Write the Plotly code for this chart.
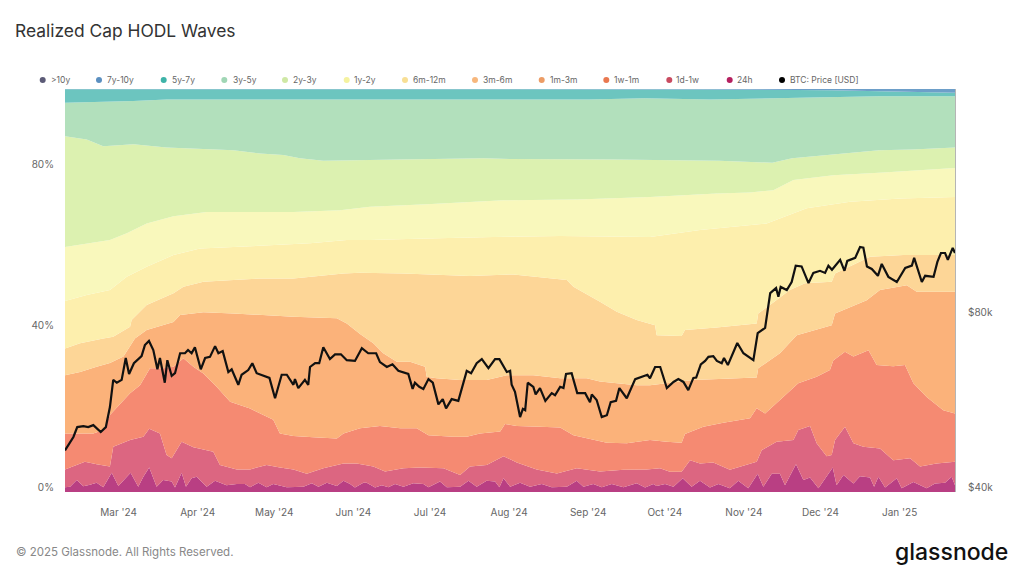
from datetime import datetime, timedelta
import plotly.graph_objects as go

START = datetime(2024, 2, 9)
END_DAY = 348.7

price_days = [0,3.3,4.8,7.2,9.1,11.1,14,16,17.6,18.9,20.3,22.2,23.8,25.1,27,30,31.3,32.9,34.6,36.2,37.2,39.1,40.1,41.8,43.1,45.1,47,48.2,49.6,50.9,53.2,54.9,56.8,58.8,60.1,61.8,64,65.3,67.9,69.2,71.8,73.4,75.1,80.1,82.3,84.9,86.9,89.5,90.1,91.4,94,95.3,96,98,99.6,101.2,103.8,105.8,108.1,110.4,113.6,116.3,118.8,121.9,123.4,126.1,128.3,130.6,134.5,136.2,137.1,138.8,140.4,142.4,144.1,146.3,148,149.3,151.5,154.1,157.4,159.1,161.3,163.3,165.9,168.5,170.2,173.1,174.4,175,176.3,178.3,179.4,180.3,181.3,183.5,184.4,186.1,188.2,190.7,192,194,195.3,196.3,198.5,200.7,203.8,205.7,206.4,208.3,210.3,212.3,213.8,215.9,217.2,220.1,223.4,226.6,228.2,229.2,231.2,233.2,235.8,238.4,240.3,242.3,244.2,246.2,247.3,249.1,250.8,252.1,254,255.4,257.3,258.2,259.7,263.4,265.8,269.7,271.4,274.3,276.3,278.6,279.5,280.4,282.8,284.7,286.3,288.6,291.3,293.2,295.8,297.8,299.1,300.5,303.7,305.4,306.5,309.6,311.5,312.8,314.2,316.1,318.5,320,322.6,325.9,329.2,331.8,332.7,335.7,337,340.3,341.8,343.2,344.8,345.9,347.8,348.7]
price_k = [47.2,49.8,51.8,52,51.8,52.2,50.8,51.8,56.1,62.5,61.8,62.5,68.2,64,66.8,68.7,71.8,73,70.4,65.2,68.2,61.8,67.6,63.5,64.2,69.5,69.5,70.4,69.5,71.2,65.2,68.2,68.5,71.5,69.5,70.1,64.5,65.2,61.3,63.8,65,66.8,64.2,63,58.1,63.8,63.8,61.3,62.7,60.5,62.5,61.3,65.8,66.8,66.8,71.2,67.9,69.2,69.2,67.6,67.4,70.9,69.5,69.5,67.1,65.8,66.5,64.8,64,60.3,61.8,60.8,60.3,62.7,61.8,56.7,57.9,55.8,57.9,57.5,64.8,64.2,66.8,67.9,65.5,67.9,67.9,64.5,64.8,61.3,59.6,53.9,55.7,55.4,61.8,60.8,59,60.5,57.5,59.3,58.8,60.8,60.5,64,64.2,59.3,59.3,57.2,59,57.7,53.9,54.3,57.2,57.5,60.5,58.1,62.7,63.5,63.8,62.9,65.8,65.8,60.5,62,62.7,62,60,63,63.1,66.5,67.4,68.5,68.7,67.4,66.8,68.2,66.3,72.4,69.5,67.6,75.3,76.9,88.3,90.1,87,90.5,89.4,92.3,98.5,98.2,91.9,95.7,96.5,95.7,98.5,96.9,100.8,96.5,100.4,101.6,106.1,105.8,98.2,97.2,94.6,99.2,94.2,92.3,97.6,98.5,101.6,92.3,94.6,94.2,100,103.6,103.6,100.8,105.7,103.6]

h24_days = [0,2,4.6,7.2,9.8,12.4,15,18.3,20.9,24.2,25.7,28.7,30.7,33,35.9,38.5,41.8,43.1,45.7,47.4,49.6,51.6,55.5,58.8,63.3,67.3,70.5,72.5,75.8,79,81.6,86.9,88.8,93.4,96.7,99.3,102.6,106.5,109.1,111.7,113.6,116.9,118.2,121.5,124.1,126.7,129.3,132.6,136.5,140.4,142.4,146.9,149.6,154.8,158.1,161.3,165.2,168.5,170.2,171.8,174.4,178.3,182.2,186.8,190.7,196.6,200.5,203.1,207,210.3,214.2,218.8,224,227.3,230.5,231.8,235.1,238.4,242,245.5,248.8,252.7,256,260.5,263.8,267.7,271.4,273.6,276.9,280.1,282.1,286.4,289.3,291.9,295.2,300.8,302.3,305,308.9,311.5,315.4,317,318.7,321.3,325.9,327.8,332.4,337.6,340.9,344.8,347.4,348.7]
h24_top = [1.2,1.3,3.0,1.4,1.8,2.3,1.2,4.8,1.5,3.8,4.8,1.3,3.8,6.1,1.3,3.0,2.6,1.1,4.8,1.3,3.4,3.8,1.3,2.8,1.7,2,2,1.2,2.3,1.2,2,1.2,1.2,1.3,2.2,1.3,2.3,1.5,2.8,2,1.1,2.3,2.3,1.1,1.7,1.2,2,1.3,2.2,2,1.2,2.6,1.2,1.3,2.8,1.3,2.8,2.6,1.2,3.4,1.3,2.3,1.3,2,1.2,1.3,2.8,1.3,2,1.2,2,1.2,2.2,1.1,2,1.5,2,1.3,3.4,1.3,2.8,1.1,2,0.9,2.8,0.9,4.5,1.3,4.5,4.5,1.7,6.9,3,3.6,0.9,6.1,1.7,4.2,2.1,3.9,3.6,1.3,3.8,1.1,3.4,0.9,2.5,0.9,2.1,2.3,3.8,1.7]

d1w_days = [0,4.6,7.8,12.4,17.6,18.9,25.5,30.7,33,37.2,39.8,41.8,45.7,50.3,58.1,60.7,67.3,72.5,79,84.2,89.5,94.7,101.2,109.1,114.3,120.8,125.4,132.6,139.1,148.3,154.8,158.7,165.2,171.8,177,184.8,192.7,200.5,209.6,218.8,227.9,233.1,237,241.6,244.9,248.8,254,260.5,264.5,271,273,278.8,285.4,287.3,291.9,294.5,298.4,300.4,301.7,305.6,308.9,312.8,319.3,324.5,331.1,335,341.5,348.7]
d1w_top = [5.6,6.7,7.5,6.9,6.3,11.2,12.9,13.7,15.7,14.5,9.2,8.4,12.5,11.1,10,6.7,5.6,5.6,6.7,6.1,5.6,4.5,5.9,7.1,7.1,6.3,5.1,5.9,6.1,5.9,4.2,6.3,6.7,8.9,7.3,5.6,4.6,5.9,5.1,5.5,5.6,5.9,5.0,5.0,7.9,7.1,7.3,5.5,6.3,7.5,10.4,12.5,12.9,15.4,16.4,12.1,8.9,9.2,12.9,16.2,12.1,11.2,10.8,7.9,8.4,6.3,7.1,7.5]

w1m_days = [0,11.1,15,17.6,25.5,29.4,33.3,38.5,42.5,46.4,50.3,54.2,59.4,64.7,72.5,81.6,84.2,89.5,97.3,106.5,109.1,115.6,123.4,131.3,137.8,142.4,152.2,157.4,162.6,170.5,172.4,177,186.1,194,199.2,204.4,212.3,220.1,229.2,235.7,241.6,242.9,250.1,257.9,268.4,271,274.3,281.4,287.3,294.5,299.7,301,305.6,308.9,314.8,318,324.5,329.1,332.4,337.6,344.1,348.7]
w1m_top = [14.5,14.5,15.4,19.1,24.5,26.5,30.7,30.7,31.1,33.2,31.1,29.4,26.1,22.4,20.7,17.9,14.5,13.9,13.6,13.3,14.5,15.8,16.4,15.8,15.8,14.1,13.7,13.7,14.5,15,16.9,16.4,16.2,16,14.1,13.3,12.2,12.1,12.9,12.5,12.2,14.4,16.2,17.2,18.3,20.8,19.5,23.6,27,28.6,30.3,32.6,34.8,33.6,35.2,31.5,31.2,31.5,27,23.6,20.3,19.5]

m1_3_days = [0,5.9,12.4,17.6,22.9,26.1,27.4,32,42.5,45.1,54.2,66,76.4,89.5,106.5,110.4,115.6,120.8,124.7,130,135.2,141.1,141.7,145.6,154.8,165.2,173.1,183.5,194,204.4,209.6,216.2,224,229.2,246.2,271,271.6,280.1,286.7,300.4,301.7,314.1,319.3,329.8,333.7,348.7]
m1_3_top = [29,29.8,31.1,32,33.6,37,38.1,40.2,42.2,43.9,44.6,44.3,43.9,43.5,43.1,41.8,39.2,36.9,34.4,32.3,32.3,31.1,28.6,28.2,27.8,27.8,29,29,28.2,28.2,27.4,27,26.5,26.5,27.8,28.4,30.7,34.4,38.9,41.4,44.3,47.6,50.1,51.3,49.7,49.7]

m3_6_days = [0,5.9,15,18.9,25.5,26.1,32,42.5,46.4,54.2,66,76.4,89.5,109.1,115.6,132.6,158.7,175.7,196.6,199.2,209.6,216.2,224,231.2,231.8,241.6,242.9,255.3,271,271.6,277.5,284,289.9,300.4,301.7,310.2,315.4,328.5,348.7]
m3_6_top = [35.6,36.9,38.1,38.5,41,42.7,46.4,49.3,50.9,52.2,52.6,53,53,54.2,54.4,54.2,53.6,54,52.6,50.9,47.2,44.7,42.7,41.4,38.9,38.7,40.2,40.8,41.8,44.3,47,50.1,51.8,52.2,54.2,56.7,58.4,58.8,58.8]

m6_12_days = [0,8.5,17.6,24.2,32,42.5,52.9,66,79,96,110.4,119.5,141.7,167.8,194,229.2,248.8,274.9,290.6,307.6,327.2,348.7]
m6_12_top = [47.4,48.9,50.1,53.4,55.9,58.8,60.4,60.8,61.3,61.7,62.5,62.5,62.9,63.3,63.5,63.3,65,66.6,70.4,72,72.8,73.2]

y1_2_days = [0,9.8,17.6,24.2,32,42.5,55.5,71.2,89.5,107.8,119.5,141.7,171.8,200.5,229.2,255.3,268.4,277.5,285.4,301,310.2,320.6,348.7]
y1_2_top = [60.8,61.7,62.5,64.2,66.6,68.4,69.5,69.5,69.5,69.9,70.8,71.4,72.4,72.6,73.2,74.1,74.3,74.9,77.4,78.6,79,79.3,80.4]

y2_3_days = [0,8.5,15,26.8,39.8,52.9,66,76.4,85.5,92,101.2,131.2,163.9,175.2,214.4,256.2,277.1,284.9,305.8,318.9,332,348.7]
y2_3_top = [88.3,87.5,85.8,86.3,85.5,85.2,84.8,84,83.6,82.8,82.2,82.5,82.8,82.6,82.5,82.2,81.7,82.8,84,84.8,85,85.5]

y3_5_days = [0,13.7,26.8,39.8,175.2,205,227,253,292.8,318.9,348.7]
y3_5_top = [96.6,96.8,97,97.4,97.4,97.4,97.7,97.4,97.9,98.2,98.2]

y5_7_days = [0,250,300,348.7]
y5_7_top = [99.95,99.9,99.7,99.1]

y7_10_days = [0,348.7]
y7_10_top = [100,100]

over10_days = [0,348.7]
over10_top = [100,100]

pct_ticks = [0, 40, 80]
pct_labels = ["0%", "40%", "80%"]
price_ticks = [40, 80]
price_labels = ["$40k", "$80k"]

bands = [
    ("24h", h24_days, h24_top, "#b93f83", "#b5205f"),
    ("1d-1w", d1w_days, d1w_top, "#dc6681", "#c94b60"),
    ("1w-1m", w1m_days, w1m_top, "#f58a72", "#e97850"),
    ("1m-3m", m1_3_days, m1_3_top, "#fbb27a", "#ec9c65"),
    ("3m-6m", m3_6_days, m3_6_top, "#fdd697", "#f7b77d"),
    ("6m-12m", m6_12_days, m6_12_top, "#fdefad", "#f8df95"),
    ("1y-2y", y1_2_days, y1_2_top, "#f9f8bc", "#f5f2a0"),
    ("2y-3y", y2_3_days, y2_3_top, "#dcf1b0", "#cfe8a5"),
    ("3y-5y", y3_5_days, y3_5_top, "#b2e0bc", "#a0d6b5"),
    ("5y-7y", y5_7_days, y5_7_top, "#6cc5bf", "#3eb3a8"),
    ("7y-10y", y7_10_days, y7_10_top, "#6d9fc9", "#5b8fc0"),
    (">10y", over10_days, over10_top, "#6d6c86", "#5c5b77"),
]

# legend row: (label, dot colour, dot px, text px)
legend_names = [">10y", "7y-10y", "5y-7y", "3y-5y", "2y-3y", "1y-2y", "6m-12m", "3m-6m", "1m-3m", "1w-1m", "1d-1w", "24h", "BTC: Price [USD]"]
legend_dots = ["#5c5b77", "#5b8fc0", "#3eb3a8", "#a0d6b5", "#cfe8a5", "#f5f2a0", "#f8df95", "#f7b77d", "#ec9c65", "#e97850", "#c94b60", "#b5205f", "#000000"]
legend_dot_px = [42.7, 99, 163.7, 224.3, 285, 346.7, 405, 475, 541.7, 606.3, 669.3, 729.7, 782]
legend_text_px = [49.7, 106, 170.7, 231.7, 291.7, 352.7, 411.7, 482.3, 548.7, 613, 675.3, 736, 788.7]

PLOT_L, PLOT_R, PLOT_T, PLOT_B = 65, 955, 89, 492


def px(x):
    return (x - PLOT_L) / (PLOT_R - PLOT_L)


def py(y):
    return (PLOT_B - y) / (PLOT_B - PLOT_T)


def to_dates(days):
    return [START + timedelta(days=d) for d in days]


fig = go.Figure()
for i, (name, days, top, fill, _) in enumerate(bands):
    fig.add_trace(go.Scatter(
        x=to_dates(days), y=top, mode="lines", line=dict(width=0, color=fill),
        fill="tozeroy" if i == 0 else "tonexty", fillcolor=fill, name=name,
        showlegend=False, hoverinfo="skip", yaxis="y",
    ))

fig.add_trace(go.Scatter(
    x=to_dates(price_days), y=price_k, mode="lines", yaxis="y2",
    line=dict(color="#111111", width=2.2), showlegend=False, name="BTC: Price [USD]",
))

FONT = "Inter, Lato, sans-serif"
TICK = dict(family=FONT, size=10, color="#666666")

annotations = [
    dict(text=t, xref="paper", yref="paper", x=px(x), xanchor="left", y=py(80), yanchor="middle",
         showarrow=False, borderpad=0, font=dict(family=FONT, size=8.5, color="#666666"))
    for t, x in zip(legend_names, legend_text_px)
]
annotations += [
    dict(text="© 2025 Glassnode. All Rights Reserved.", xref="paper", yref="paper",
         x=px(14), xanchor="left", y=py(552), yanchor="middle", showarrow=False,
         font=dict(family=FONT, size=11.5, color="#888888")),
    dict(text="glassnode", xref="paper", yref="paper", x=px(1010), xanchor="right", y=py(552),
         yanchor="middle", showarrow=False,
         font=dict(family=FONT, size=23, color="#111111", weight=500)),
]
shapes = [
    dict(type="circle", xref="paper", yref="paper", x0=px(x - 3), x1=px(x + 3), y0=py(83), y1=py(77),
         fillcolor=c, line=dict(width=0), layer="above")
    for x, c in zip(legend_dot_px, legend_dots)
]

fig.update_layout(
    width=1024, height=570, margin=dict(l=PLOT_L, r=1024 - PLOT_R, t=PLOT_T, b=570 - PLOT_B),
    paper_bgcolor="white", plot_bgcolor="white", showlegend=False,
    title=dict(text="Realized Cap HODL Waves", x=15 / 1024, xanchor="left", y=1 - 31 / 570, yanchor="middle",
               font=dict(family=FONT, size=17.4, color="#333333")),
    xaxis=dict(range=[START, START + timedelta(days=END_DAY)], tick0="2024-03-01", dtick="M1",
               tickformat="%b '%y", showgrid=False, zeroline=False, ticks="", tickfont=TICK,
               ticklabelstandoff=13),
    yaxis=dict(range=[0, 100], tickmode="array", tickvals=pct_ticks, ticktext=pct_labels, showgrid=False,
               zeroline=False, ticks="", tickfont=TICK, ticklabelposition="outside top",
               ticklabelshift=2, ticklabelstandoff=10),
    yaxis2=dict(overlaying="y", side="right", type="log", range=[1.60206, 2.2989], tickmode="array",
                tickvals=price_ticks, ticktext=price_labels, showgrid=False, zeroline=False, ticks="",
                tickfont=TICK, ticklabelposition="outside top", ticklabelshift=2, ticklabelstandoff=10,
                showline=True, linecolor="#b5b5b5", linewidth=1),
    annotations=annotations, shapes=shapes,
)

fig.write_html("out.html", config={"displayModeBar": False}, post_script="document.body.style.margin='0';")
